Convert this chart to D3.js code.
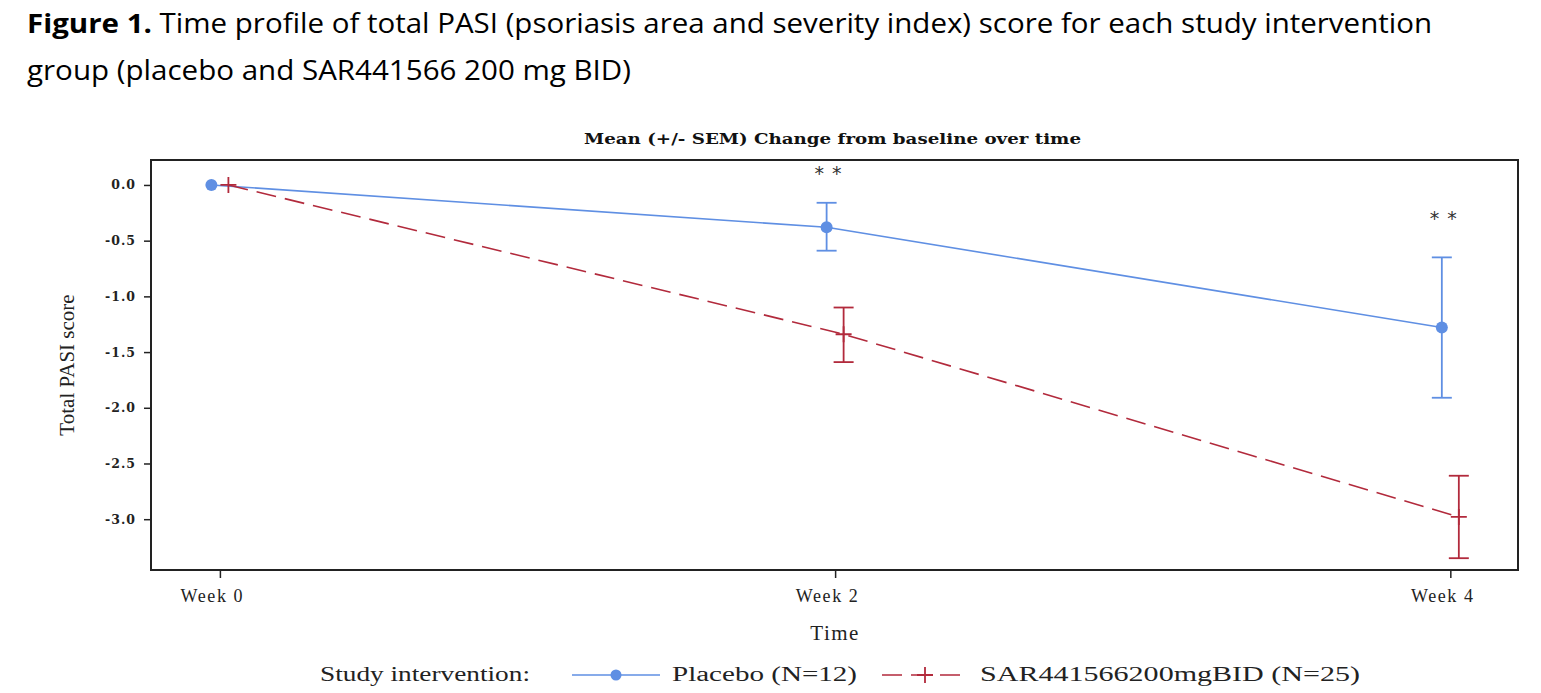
<!DOCTYPE html>
<html>
<head>
<meta charset="utf-8">
<script src="https://cdn.jsdelivr.net/npm/d3@7"></script>
<style>
  body { margin: 0; background: #fff; }
  svg { display: block; }
</style>
</head>
<body>
<div id="chart"></div>
<script>
// data
var weeks = [0, 2, 4];
var weekLabels = ["Week 0", "Week 2", "Week 4"];
var placeboMean = [0, -0.38, -1.28];
var placeboLow = [0, -0.59, -1.91];
var placeboHigh = [0, -0.16, -0.65];
var sarMean = [0, -1.34, -2.98];
var sarLow = [0, -1.59, -3.35];
var sarHigh = [0, -1.10, -2.61];
var yTicks = [0, -0.5, -1.0, -1.5, -2.0, -2.5, -3.0];
var starWeeks = [2, 4];
var starY = [0.12, -0.29];

var width = 1541, height = 693;
var blue = "#5f8fe3", red = "#b22a3c";

var svg = d3.select("#chart").append("svg").attr("width", width).attr("height", height);

// figure caption
var cap = svg.append("g").attr("font-family", "'Open Sans', sans-serif").attr("font-size", 27).attr("fill", "#000");
var line1 = cap.append("text").attr("x", 27).attr("y", 33)
    .attr("textLength", 1405).attr("lengthAdjust", "spacingAndGlyphs");
line1.append("tspan").attr("font-weight", "bold").text("Figure 1.");
line1.append("tspan").text(" Time profile of total PASI (psoriasis area and severity index) score for each study intervention");
cap.append("text").attr("x", 27).attr("y", 80)
    .attr("textLength", 604).attr("lengthAdjust", "spacingAndGlyphs")
    .text("group (placebo and SAR441566 200 mg BID)");

var margin = {left: 151, right: 1518, top: 160, bottom: 570};

var x = d3.scaleLinear().domain([-0.224, 4.22]).range([margin.left, margin.right]);
var y = d3.scaleLinear().domain([0.224, -3.456]).range([margin.top, margin.bottom]);

// frame
svg.append("rect")
    .attr("x", margin.left).attr("y", margin.top)
    .attr("width", margin.right - margin.left).attr("height", margin.bottom - margin.top)
    .attr("fill", "none").attr("stroke", "#222").attr("stroke-width", 2);

// y axis
var yAxis = svg.append("g")
    .attr("transform", "translate(" + margin.left + ",0)")
    .call(d3.axisLeft(y).tickValues(yTicks).tickFormat(d => d.toFixed(1)).tickSize(7).tickPadding(8));
yAxis.select(".domain").remove();
yAxis.selectAll("line").attr("stroke", "#222").attr("stroke-width", 1.5);
yAxis.selectAll("text").attr("font-family", "'DejaVu Serif', serif").attr("font-size", 12.5).attr("font-weight", "bold").attr("fill", "#222").attr("letter-spacing", 1);

// x axis
var xAxis = svg.append("g")
    .attr("transform", "translate(0," + margin.bottom + ")")
    .call(d3.axisBottom(x).tickValues(weeks).tickFormat((d, i) => weekLabels[i]).tickSize(8).tickPadding(11));
xAxis.select(".domain").remove();
xAxis.selectAll("line").attr("stroke", "#222").attr("stroke-width", 1.5);
xAxis.selectAll("text").attr("font-family", "'Liberation Serif', serif").attr("font-size", 18).attr("fill", "#222").attr("letter-spacing", 1.6)
    .attr("dx", -8);

// axis titles
svg.append("text")
    .attr("transform", "translate(74," + ((margin.top + margin.bottom) / 2) + ") rotate(-90)")
    .attr("text-anchor", "middle")
    .attr("font-family", "'Liberation Serif', serif").attr("font-size", 21).attr("fill", "#222")
    .text("Total PASI score");
svg.append("text")
    .attr("x", x(2)).attr("y", 640).attr("text-anchor", "middle")
    .attr("font-family", "'Liberation Serif', serif").attr("font-size", 21).attr("fill", "#222").attr("letter-spacing", 1.5)
    .text("Time");

// chart title
svg.append("text")
    .attr("x", 584).attr("y", 144)
    .attr("textLength", 497).attr("lengthAdjust", "spacingAndGlyphs")
    .attr("font-family", "'DejaVu Serif', serif").attr("font-weight", "bold").attr("font-size", 14.5).attr("fill", "#111")
    .text("Mean (+/- SEM) Change from baseline over time");

// series
var dodge = 8.5;
var placebo = weeks.map((w, i) => ({w: w, m: placeboMean[i], lo: placeboLow[i], hi: placeboHigh[i]}));
var sar = weeks.map((w, i) => ({w: w, m: sarMean[i], lo: sarLow[i], hi: sarHigh[i]}));

function drawSeries(data, off, color, dash) {
    var g = svg.append("g");
    g.append("path")
        .datum(data)
        .attr("fill", "none").attr("stroke", color).attr("stroke-width", 1.6)
        .attr("stroke-dasharray", dash)
        .attr("d", d3.line().x(d => x(d.w) + off).y(d => y(d.m)));
    var eb = g.selectAll(".eb").data(data.filter(d => d.hi !== d.lo)).join("g");
    eb.append("line").attr("x1", d => x(d.w) + off).attr("x2", d => x(d.w) + off)
        .attr("y1", d => y(d.hi)).attr("y2", d => y(d.lo))
        .attr("stroke", color).attr("stroke-width", 1.8);
    [d => d.hi, d => d.lo].forEach(function (f) {
        eb.append("line").attr("x1", d => x(d.w) + off - 10).attr("x2", d => x(d.w) + off + 10)
            .attr("y1", d => y(f(d))).attr("y2", d => y(f(d)))
            .attr("stroke", color).attr("stroke-width", 1.8);
    });
    return g;
}

var gp = drawSeries(placebo, -dodge, blue, null);
gp.selectAll("circle").data(placebo).join("circle")
    .attr("cx", d => x(d.w) - dodge).attr("cy", d => y(d.m)).attr("r", 6).attr("fill", blue);

var gs = drawSeries(sar, dodge, red, "20,9");
gs.selectAll(".plus").data(sar).join("path")
    .attr("d", d => {
        var cx = x(d.w) + dodge, cy = y(d.m);
        return "M" + (cx - 8) + "," + cy + "H" + (cx + 8) + "M" + cx + "," + (cy - 8) + "V" + (cy + 8);
    })
    .attr("stroke", red).attr("stroke-width", 1.8);

// significance markers
svg.selectAll(".star").data(starWeeks).join("text")
    .attr("x", d => x(d) - dodge + 2).attr("y", (d, i) => y(starY[i]) + 8)
    .attr("text-anchor", "middle")
    .attr("font-family", "'DejaVu Sans', sans-serif").attr("font-size", 19).attr("fill", "#333")
    .attr("letter-spacing", 1)
    .text("* *");

// legend
var leg = svg.append("g").attr("font-family", "'Liberation Serif', serif").attr("font-size", 20).attr("fill", "#222");
leg.append("text").attr("x", 320).attr("y", 681).attr("textLength", 210).attr("lengthAdjust", "spacingAndGlyphs").text("Study intervention:");
leg.append("line").attr("x1", 572).attr("x2", 660).attr("y1", 675).attr("y2", 675).attr("stroke", blue).attr("stroke-width", 1.6);
leg.append("circle").attr("cx", 616).attr("cy", 675).attr("r", 5.5).attr("fill", blue);
leg.append("text").attr("x", 672).attr("y", 681).attr("textLength", 185).attr("lengthAdjust", "spacingAndGlyphs").text("Placebo (N=12)");
leg.append("line").attr("x1", 882).attr("x2", 968).attr("y1", 675).attr("y2", 675).attr("stroke", red).attr("stroke-width", 1.6).attr("stroke-dasharray", "20,9");
leg.append("path").attr("d", "M917,675H933M925,667V683").attr("stroke", red).attr("stroke-width", 1.8);
leg.append("text").attr("x", 980).attr("y", 681).attr("textLength", 380).attr("lengthAdjust", "spacingAndGlyphs").text("SAR441566200mgBID (N=25)");
</script>
</body>
</html>
